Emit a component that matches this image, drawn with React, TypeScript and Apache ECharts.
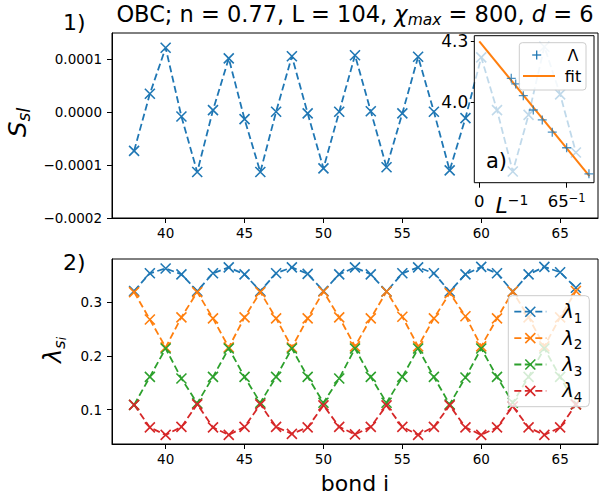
import React, { useEffect, useRef } from "react";
import * as echarts from "echarts";

// bond index along the chain
const bonds = [38, 39, 40, 41, 42, 43, 44, 45, 46, 47, 48, 49, 50, 51, 52, 53, 54, 55, 56, 57, 58, 59, 60, 61, 62, 63, 64, 65, 66];

// panel 1: S_sl per bond
const entropyDiff = [
  -7.3e-5, 3.5e-5, 1.22e-4, -8e-6, -1.13e-4, 4e-6, 1.02e-4, -1.3e-5, -1.13e-4, 1e-6,
  1.06e-4, -2e-6, -1.06e-4, 1e-6, 1.08e-4, 2e-6, -1.04e-4, -2e-6, 1.05e-4, 1e-6,
  -1.1e-4, -1.1e-5, 1.04e-4, 4e-6, -1.12e-4, -5e-6, 1.24e-4, 3.4e-5, -7.6e-5,
];

// panel 2: the four largest Schmidt values per bond
const lambda1 = [0.321, 0.354, 0.363, 0.352, 0.321, 0.354, 0.365, 0.352, 0.321, 0.354, 0.365, 0.353, 0.321, 0.352, 0.365, 0.352, 0.32, 0.354, 0.365, 0.354, 0.32, 0.352, 0.366, 0.354, 0.32, 0.352, 0.366, 0.356, 0.327];
const lambda2 = [0.319, 0.268, 0.216, 0.272, 0.319, 0.27, 0.216, 0.272, 0.319, 0.27, 0.216, 0.27, 0.32, 0.272, 0.218, 0.27, 0.32, 0.273, 0.218, 0.27, 0.317, 0.274, 0.218, 0.27, 0.32, 0.272, 0.218, 0.272, 0.321];
const lambda3 = [0.109, 0.161, 0.214, 0.158, 0.112, 0.161, 0.214, 0.161, 0.113, 0.161, 0.214, 0.161, 0.113, 0.158, 0.214, 0.161, 0.113, 0.161, 0.214, 0.161, 0.11, 0.16, 0.214, 0.161, 0.113, 0.161, 0.214, 0.161, 0.11];
const lambda4 = [0.109, 0.067, 0.053, 0.068, 0.11, 0.067, 0.053, 0.068, 0.11, 0.068, 0.055, 0.067, 0.108, 0.068, 0.054, 0.068, 0.108, 0.068, 0.053, 0.068, 0.108, 0.067, 0.053, 0.067, 0.106, 0.067, 0.053, 0.067, 0.11];
const lambdaSubscripts = ["1", "2", "3", "4"];

// inset a): Λ against inverse length, with linear fit
const inverseL = [0.00563, 0.00641, 0.00775, 0.00951, 0.01109, 0.01285, 0.01538, 0.01931];
const bigLambda = [4.117, 4.089, 4.031, 3.96, 3.911, 3.85, 3.773, 3.644];
const fitInverseL = [0, 0.0194];
const fitLambda = [4.3, 3.633];

// tick positions
const bondTicks = [40, 45, 50, 55, 60, 65];
const topYTicks = [-0.0002, -0.0001, 0, 0.0001];
const bottomYTicks = [0.1, 0.2, 0.3];
const insetXTicks = [0, 1 / 65];
const insetYTicks = [4.0, 4.3];

const FONT = "DejaVu Sans";
const COLORS = ["#1f77b4", "#ff7f0e", "#2ca02c", "#d62728"];
const CROSS = "path://M0,0L10,10M10,0L0,10";
const PLUS = "path://M5,0L5,10M0,5L10,5";
const DASH = [7, 3.5];

// layout (pixels)
const TOP = { left: 112, top: 33, width: 486, height: 185 };
const BOTTOM = { left: 112, top: 259, width: 486, height: 185 };
const INSET = { left: 474.3, top: 35.7, width: 119.7, height: 147 };
const LEGEND = { x: 508.3, y: 295.7, w: 81, h: 111, rowY: 311.7, rowStep: 26.4 };

const pairs = (xs: number[], ys: number[]) => xs.map((x, i) => [x, ys[i]]);

const minusFmt = (digits: number) => (v: number) => {
  const s = Math.abs(v).toFixed(digits);
  return v < -1e-12 ? "\u2212" + s : s;
};

const tickLabel = (size: number) => ({ fontFamily: FONT, fontSize: size, color: "#000" });

function valueAxis(gridIndex: number, min: number, max: number, ticks: number[], fmt: any, opts: any = {}) {
  return {
    type: "value",
    gridIndex,
    min,
    max,
    z: opts.z ?? 0,
    axisLine: { show: opts.line ?? true, onZero: false, lineStyle: { color: "#000", width: 1 } },
    axisTick: { show: true, inside: false, length: opts.tickLen ?? 5, customValues: ticks, lineStyle: { color: "#000", width: 1 } },
    axisLabel: {
      customValues: ticks,
      formatter: fmt,
      margin: opts.margin ?? 8,
      ...tickLabel(opts.fontSize ?? 13.5),
      rich: opts.rich,
    },
    splitLine: { show: false },
  };
}

function crossLine(name: string, ys: number[], color: string, xi: number, yi: number) {
  return {
    name,
    type: "line",
    xAxisIndex: xi,
    yAxisIndex: yi,
    data: pairs(bonds, ys),
    symbol: CROSS,
    symbolSize: 10,
    itemStyle: { color, borderColor: color, borderWidth: 1.6 },
    lineStyle: { color, width: 1.8, type: DASH },
    z: 2,
    silent: true,
  };
}

function buildOption() {
  const lambdas = [lambda1, lambda2, lambda3, lambda4];

  const legendEls: any[] = [
    {
      type: "rect",
      z: 10,
      shape: { x: LEGEND.x, y: LEGEND.y, width: LEGEND.w, height: LEGEND.h, r: 4 },
      style: { fill: "rgba(255,255,255,0.8)", stroke: "#cccccc", lineWidth: 1 },
    },
  ];
  lambdaSubscripts.forEach((sub, i) => {
    const y = LEGEND.rowY + i * LEGEND.rowStep;
    const c = COLORS[i];
    legendEls.push(
      { type: "line", z: 11, shape: { x1: LEGEND.x + 6, y1: y, x2: LEGEND.x + 38, y2: y }, style: { stroke: c, lineWidth: 1.8, lineDash: DASH } },
      { type: "line", z: 11, shape: { x1: LEGEND.x + 17, y1: y - 5, x2: LEGEND.x + 27, y2: y + 5 }, style: { stroke: c, lineWidth: 1.6 } },
      { type: "line", z: 11, shape: { x1: LEGEND.x + 27, y1: y - 5, x2: LEGEND.x + 17, y2: y + 5 }, style: { stroke: c, lineWidth: 1.6 } },
      {
        type: "text",
        z: 11,
        x: LEGEND.x + 54,
        y,
        style: {
          text: `{m|λ}{s|${sub}}`,
          verticalAlign: "middle",
          rich: {
            m: { fontFamily: FONT, fontStyle: "italic", fontSize: 19.5, lineHeight: 26, fill: "#000" },
            s: { fontFamily: FONT, fontSize: 13.5, lineHeight: 14, verticalAlign: "bottom", fill: "#000" },
          },
        },
      }
    );
  });

  const insetLegendX = 519.3;
  const insetEls: any[] = [
    {
      type: "rect",
      z: 3,
      shape: { x: INSET.left, y: INSET.top, width: INSET.width, height: INSET.height },
      style: { fill: "rgba(255,255,255,0.72)", stroke: "#000", lineWidth: 1 },
    },
    {
      type: "text",
      z: 6,
      x: 486,
      y: 161,
      style: { text: "a)", fontFamily: FONT, fontSize: 21, fill: "#000", verticalAlign: "middle" },
    },
    {
      type: "rect",
      z: 6,
      shape: { x: insetLegendX, y: 42.7, width: 66.7, height: 47.3, r: 3 },
      style: { fill: "rgba(255,255,255,0.8)", stroke: "#cccccc", lineWidth: 1 },
    },
    { type: "line", z: 7, shape: { x1: 536.7, y1: 50.5, x2: 536.7, y2: 59.5 }, style: { stroke: COLORS[0], lineWidth: 1.3 } },
    { type: "line", z: 7, shape: { x1: 532.2, y1: 55, x2: 541.2, y2: 55 }, style: { stroke: COLORS[0], lineWidth: 1.3 } },
    { type: "text", z: 7, x: 573, y: 55, style: { text: "Λ", fontFamily: FONT, fontSize: 16, fill: "#000", align: "center", verticalAlign: "middle" } },
    { type: "line", z: 7, shape: { x1: 523, y1: 76, x2: 555, y2: 76 }, style: { stroke: COLORS[1], lineWidth: 2 } },
    { type: "text", z: 7, x: 573, y: 76, style: { text: "fit", fontFamily: FONT, fontSize: 16, fill: "#000", align: "center", verticalAlign: "middle" } },
    {
      type: "text",
      z: 7,
      x: 512,
      y: 205,
      style: {
        text: "{m|L}{s|\u22121}",
        align: "center",
        verticalAlign: "middle",
        rich: {
          m: { fontFamily: FONT, fontStyle: "italic", fontSize: 22, lineHeight: 24, fill: "#000" },
          s: { fontFamily: FONT, fontSize: 14, lineHeight: 14, verticalAlign: "top", fill: "#000" },
        },
      },
    },
  ];

  const textEls: any[] = [
    {
      type: "text",
      z: 10,
      x: 355,
      y: 14,
      style: {
        text: "{r|OBC; n = 0.77, L = 104, }{i|χ}{sub|max}{r| = 800, }{i|d}{r| = 6}",
        align: "center",
        verticalAlign: "middle",
        rich: {
          r: { fontFamily: FONT, fontSize: 22.5, lineHeight: 28, fill: "#000" },
          i: { fontFamily: FONT, fontStyle: "italic", fontSize: 22.5, lineHeight: 28, fill: "#000" },
          sub: { fontFamily: FONT, fontStyle: "italic", fontSize: 15.5, lineHeight: 15, verticalAlign: "bottom", fill: "#000" },
        },
      },
    },
    { type: "text", z: 10, x: 63, y: 22.5, style: { text: "1)", fontFamily: FONT, fontSize: 22, fill: "#000", verticalAlign: "middle" } },
    { type: "text", z: 10, x: 63, y: 262, style: { text: "2)", fontFamily: FONT, fontSize: 22, fill: "#000", verticalAlign: "middle" } },
    {
      type: "text",
      z: 10,
      x: 17,
      y: 122.5,
      rotation: Math.PI / 2,
      style: {
        text: "{m|S}{s|sl}",
        align: "center",
        verticalAlign: "middle",
        rich: {
          m: { fontFamily: FONT, fontStyle: "italic", fontSize: 25, lineHeight: 30, fill: "#000" },
          s: { fontFamily: FONT, fontStyle: "italic", fontSize: 17, lineHeight: 16, verticalAlign: "bottom", fill: "#000" },
        },
      },
    },
    {
      type: "text",
      z: 10,
      x: 53,
      y: 350,
      rotation: Math.PI / 2,
      style: {
        text: "{m|λ}{s|s}{ss|i}",
        align: "center",
        verticalAlign: "middle",
        rich: {
          m: { fontFamily: FONT, fontStyle: "italic", fontSize: 24, lineHeight: 30, fill: "#000" },
          s: { fontFamily: FONT, fontStyle: "italic", fontSize: 16.5, lineHeight: 17, verticalAlign: "bottom", fill: "#000" },
          ss: { fontFamily: FONT, fontStyle: "italic", fontSize: 12, lineHeight: 10, verticalAlign: "bottom", fill: "#000" },
        },
      },
    },
    { type: "text", z: 10, x: 355, y: 483, style: { text: "bond i", fontFamily: FONT, fontSize: 22, fill: "#000", align: "center", verticalAlign: "middle" } },
  ];

  const insetXFmt = (v: number) => (Math.abs(v) < 1e-9 ? "{n|0}" : "{n|65}{sup|\u22121}");

  return {
    animation: false,
    backgroundColor: "#fff",
    grid: [
      { ...TOP, show: true, borderColor: "#000", borderWidth: 1, backgroundColor: "transparent" },
      { ...BOTTOM, show: true, borderColor: "#000", borderWidth: 1, backgroundColor: "transparent" },
      { ...INSET, show: false },
    ],
    xAxis: [
      valueAxis(0, 36.6, 67.4, bondTicks, (v: number) => String(v)),
      valueAxis(1, 36.6, 67.4, bondTicks, (v: number) => String(v)),
      valueAxis(2, -0.00088, 0.0202, insetXTicks, insetXFmt, {
        z: 5,
        line: false,
        margin: 9,
        fontSize: 16.5,
        rich: {
          n: { fontFamily: FONT, fontSize: 16.5, lineHeight: 20, color: "#000" },
          sup: { fontFamily: FONT, fontSize: 11.5, lineHeight: 11, verticalAlign: "top", color: "#000" },
        },
      }),
    ],
    yAxis: [
      valueAxis(0, -0.0002, 0.00015, topYTicks, minusFmt(4), { margin: 10 }),
      valueAxis(1, 0.0361, 0.3806, bottomYTicks, minusFmt(1), { margin: 10 }),
      valueAxis(2, 3.6, 4.328, insetYTicks, minusFmt(1), { z: 5, line: false, margin: 6, fontSize: 17, tickLen: 3.5 }),
    ],
    series: [
      crossLine("S", entropyDiff, COLORS[0], 0, 0),
      ...lambdas.map((ys, i) => crossLine("λ" + lambdaSubscripts[i], ys, COLORS[i], 1, 1)),
      {
        type: "scatter",
        xAxisIndex: 2,
        yAxisIndex: 2,
        data: pairs(inverseL, bigLambda),
        symbol: PLUS,
        symbolSize: 9,
        itemStyle: { color: COLORS[0], borderColor: COLORS[0], borderWidth: 1.3 },
        z: 5,
        silent: true,
      },
      {
        type: "line",
        xAxisIndex: 2,
        yAxisIndex: 2,
        data: pairs(fitInverseL, fitLambda),
        showSymbol: false,
        symbol: "none",
        lineStyle: { color: COLORS[1], width: 2 },
        z: 4,
        silent: true,
      },
    ],
    graphic: { elements: [...insetEls, ...legendEls, ...textEls] },
  };
}

export default function App() {
  const ref = useRef<HTMLDivElement>(null);
  useEffect(() => {
    if (!ref.current) return;
    const chart = echarts.init(ref.current, undefined, { renderer: "svg" });
    chart.setOption(buildOption() as any);
    return () => chart.dispose();
  }, []);
  return <div ref={ref} style={{ position: "absolute", left: 0, top: 0, width: 602, height: 498 }} />;
}
